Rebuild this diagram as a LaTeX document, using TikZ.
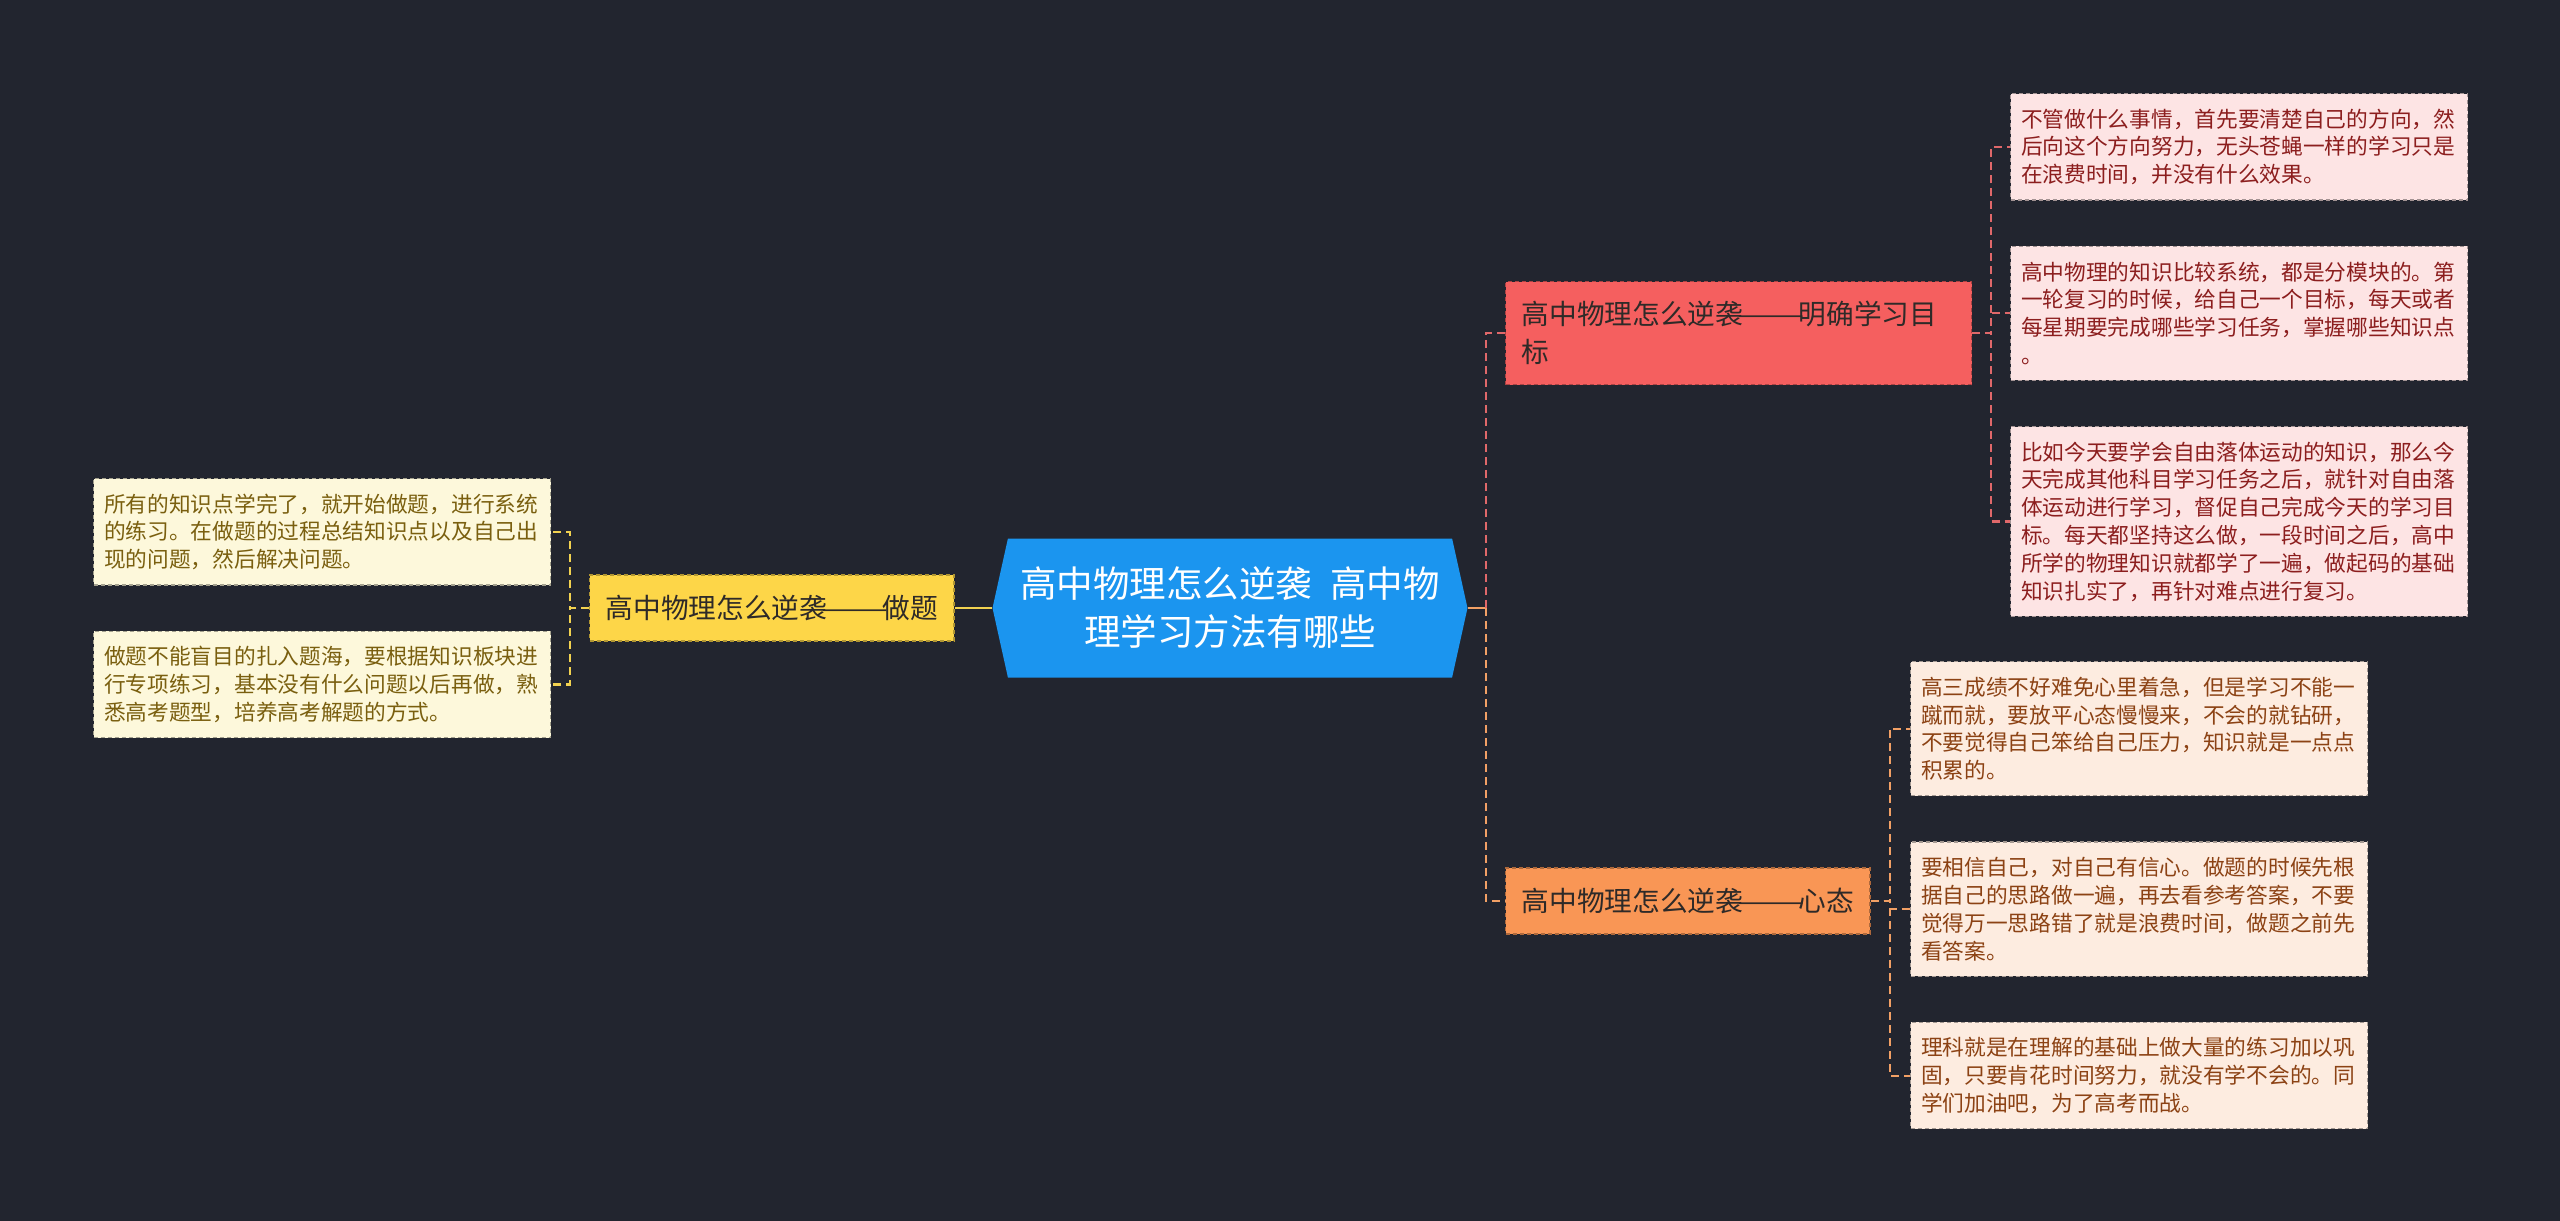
\documentclass[tikz,border=0pt]{standalone}
\usepackage{fontspec}
\setmainfont{Noto Sans CJK SC}
\usetikzlibrary{positioning, shapes.symbols}
\definecolor{bgDark}{HTML}{22252F}
\definecolor{rootBlue}{HTML}{1B95EF}
\definecolor{brYellow}{HTML}{FDD648}
\definecolor{brRed}{HTML}{F55F5F}
\definecolor{brOrange}{HTML}{F99655}
\definecolor{lfYellow}{HTML}{FDF8DB}
\definecolor{lfRed}{HTML}{FDE4E4}
\definecolor{lfOrange}{HTML}{FDECE0}
\definecolor{txYellow}{HTML}{7A5F0F}
\definecolor{txRed}{HTML}{8C1E1E}
\definecolor{txOrange}{HTML}{8C4214}
\definecolor{txDark}{HTML}{2E2A28}
\definecolor{lnYellow}{HTML}{F2D250}
\definecolor{lnRed}{HTML}{E0686A}
\definecolor{lnOrange}{HTML}{F2A065}
\newcommand{\ndash}{\makebox[2em][c]{\scalebox{1.45}[1]{——}}}

\begin{document}
\begin{tikzpicture}[x=0.5pt, y=-0.5pt,
    root/.style={signal, signal to=west and east, signal pointer angle=155, fill=rootBlue, text=white, minimum width=237.5pt, minimum height=69.5pt, align=center, inner sep=0pt, font=\fontsize{18.25}{24}\selectfont},
    branch/.style={draw=#1!70!black, fill=#1, dash pattern=on 2pt off 1.5pt, line width=0.6pt, text=txDark, inner xsep=8pt, inner ysep=2pt, minimum height=33pt, align=left, font=\fontsize{13.85}{19}\selectfont},
    leaf/.style={dash pattern=on 2pt off 1.5pt, line width=0.6pt, text width=218pt, inner xsep=5.25pt, inner ysep=2pt, minimum height=#1, align=left, font=\fontsize{10.85}{13.9}\selectfont},
    yleaf/.style={leaf=#1, fill=lfYellow, draw=lfYellow!65!black, text=txYellow},
    rleaf/.style={leaf=#1, fill=lfRed, draw=lfRed!65!black, text=txRed},
    oleaf/.style={leaf=#1, fill=lfOrange, draw=lfOrange!65!black, text=txOrange},
    link/.style={line width=1.1pt, dash pattern=on 4pt off 2.5pt},
    stem/.style={line width=1.3pt},
]
\useasboundingbox[fill=bgDark] (0,0) rectangle (2560,1221);

% centre and main branches
\node[root] (root) at (1230,608) {高中物理怎么逆袭\hspace{0.5em}高中物\\理学习方法有哪些};
\node[branch=brYellow, anchor=west] (zt) at (589,608) {高中物理怎么逆袭\ndash 做题};
\node[branch=brRed, text width=217pt, minimum height=51.5pt, anchor=west] (mb) at (1505,333) {高中物理怎么逆袭\ndash 明确学习目\\标};
\node[branch=brOrange, anchor=west] (xt) at (1505,901) {高中物理怎么逆袭\ndash 心态};

% left leaves
\node[yleaf=53.2pt, anchor=north west] (l1) at (93,478) {所有的知识点学完了，就开始做题，进行系统\\的练习。在做题的过程总结知识点以及自己出\\现的问题，然后解决问题。};
\node[yleaf=53.2pt, below=22.5pt of l1] (l2) {做题不能盲目的扎入题海，要根据知识板块进\\行专项练习，基本没有什么问题以后再做，熟\\悉高考题型，培养高考解题的方式。};

% right leaves
\node[rleaf=53.2pt, anchor=north west] (r1) at (2010,93) {不管做什么事情，首先要清楚自己的方向，然\\后向这个方向努力，无头苍蝇一样的学习只是\\在浪费时间，并没有什么效果。};
\node[rleaf=67.1pt, below=22.5pt of r1] (r2) {高中物理的知识比较系统，都是分模块的。第\\一轮复习的时候，给自己一个目标，每天或者\\每星期要完成哪些学习任务，掌握哪些知识点\\。};
\node[rleaf=94.9pt, below=22.5pt of r2] (r3) {比如今天要学会自由落体运动的知识，那么今\\天完成其他科目学习任务之后，就针对自由落\\体运动进行学习，督促自己完成今天的学习目\\标。每天都坚持这么做，一段时间之后，高中\\所学的物理知识就都学了一遍，做起码的基础\\知识扎实了，再针对难点进行复习。};
\node[oleaf=67.1pt, anchor=north west] (o1) at (1910,661) {高三成绩不好难免心里着急，但是学习不能一\\蹴而就，要放平心态慢慢来，不会的就钻研，\\不要觉得自己笨给自己压力，知识就是一点点\\积累的。};
\node[oleaf=67.1pt, below=22.5pt of o1] (o2) {要相信自己，对自己有信心。做题的时候先根\\据自己的思路做一遍，再去看参考答案，不要\\觉得万一思路错了就是浪费时间，做题之前先\\看答案。};
\node[oleaf=53.2pt, below=22.5pt of o2] (o3) {理科就是在理解的基础上做大量的练习加以巩\\固，只要肯花时间努力，就没有学不会的。同\\学们加油吧，为了高考而战。};

% connectors
\draw[stem, lnYellow] (root.west) -- (zt.east);
\foreach \n in {l1,l2} \draw[link, lnYellow] (zt.west) -- ++(-19,0) |- (\n.east);
\draw[stem, lnOrange] (root.east) -- ++(18,0) coordinate (hub);
\draw[link, lnRed] (hub) |- (mb.west);
\draw[link, lnOrange] (hub) |- (xt.west);
\foreach \n in {r1,r2,r3} \draw[link, lnRed] (mb.east) -- ++(19,0) |- (\n.west);
\foreach \n in {o1,o2,o3} \draw[link, lnOrange] (xt.east) -- ++(19,0) |- (\n.west);
\end{tikzpicture}
\end{document}
